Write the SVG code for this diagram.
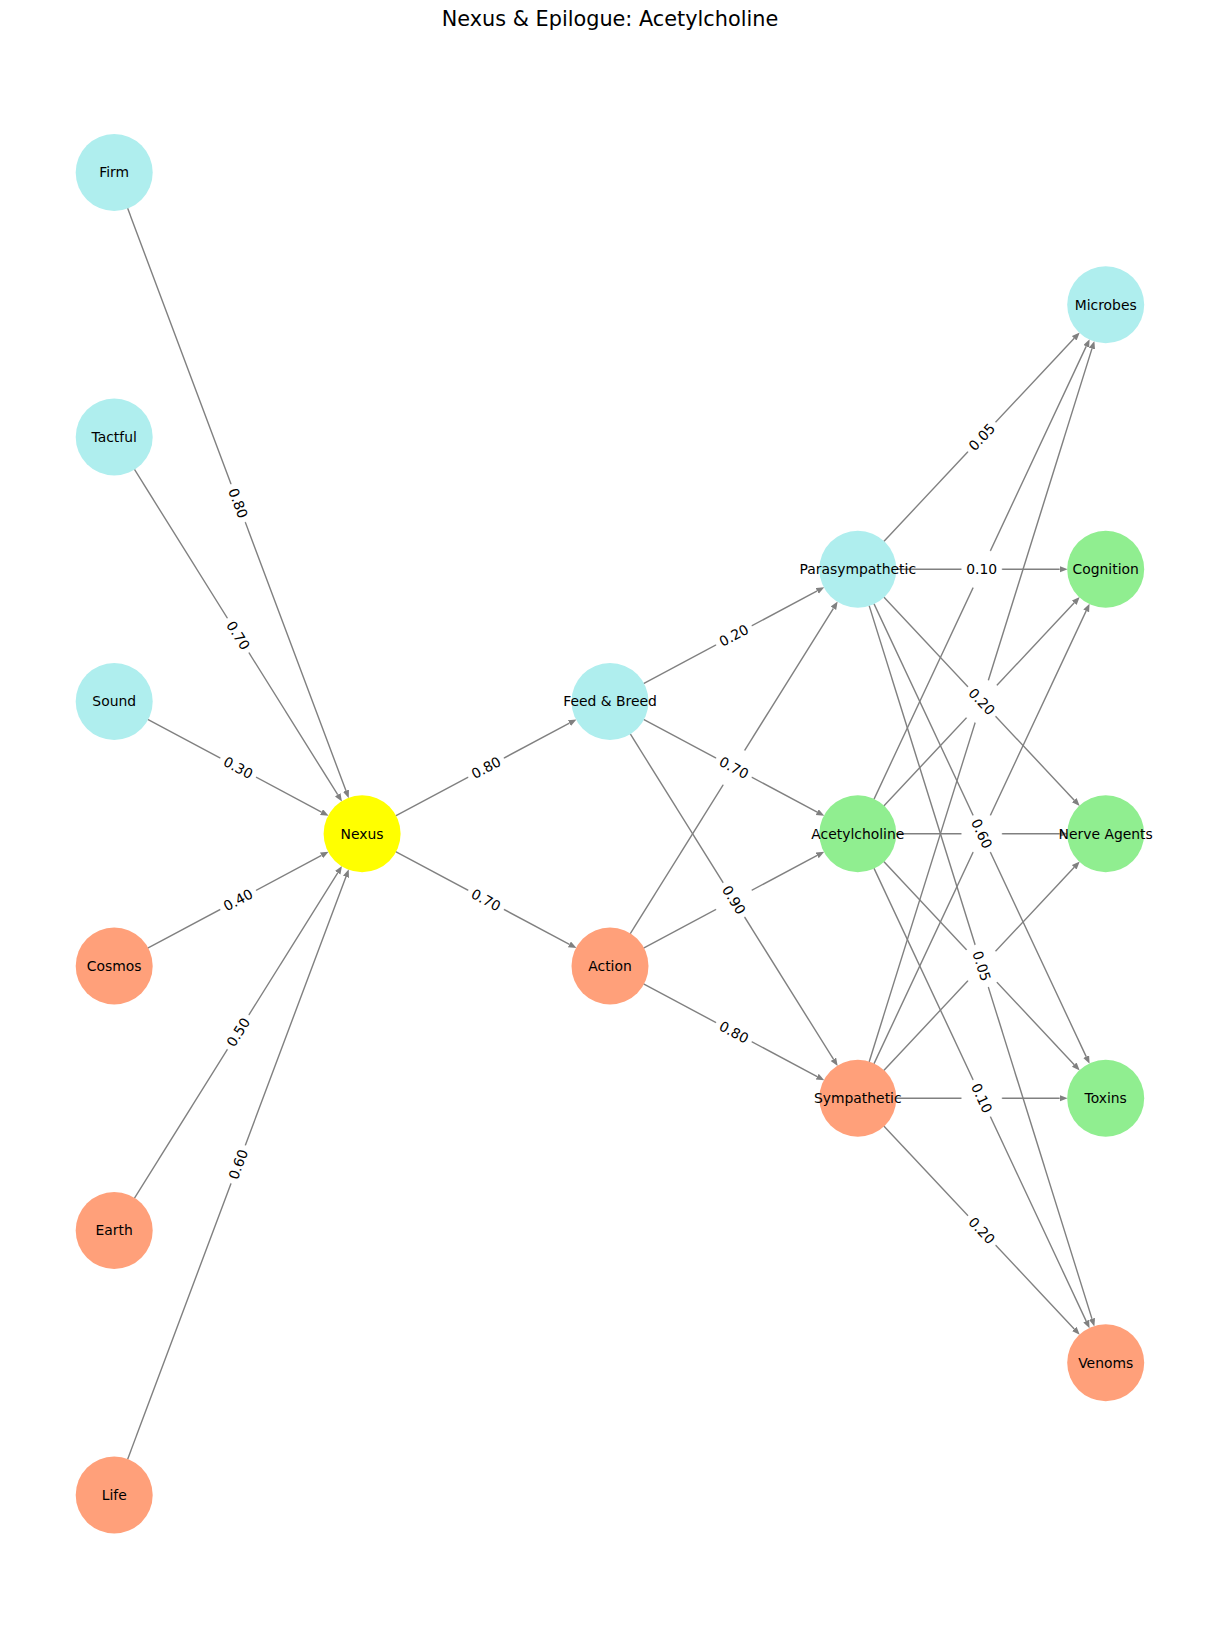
<svg xmlns="http://www.w3.org/2000/svg" width="1220" height="1644" viewBox="0 0 1220 1644">
<style>
text{font-family:"DejaVu Sans","Liberation Sans",sans-serif;fill:#000}
.t{font-size:20.8px;text-anchor:middle}
.n{font-size:13.9px;text-anchor:middle}
.el{font-size:13.9px;text-anchor:middle}
.e{stroke:#808080;stroke-width:1.4;fill:none;marker-end:url(#ah)}
.b{fill:#fff;stroke:#fff;stroke-width:0.5}
.cy{fill:#AFEEEE}.cs{fill:#FFA07A}.cg{fill:#90EE90}.cx{fill:#FFFF00}
</style>
<defs>
<marker id="ah" markerWidth="10" markerHeight="8" refX="0" refY="3.2" orient="auto" markerUnits="userSpaceOnUse"><path d="M0,0 L8,3.2 L0,6.4 z" fill="#808080"/></marker>
</defs>
<rect width="1220" height="1644" fill="#fff"/>
<text class="t" x="610" y="25.7">Nexus &amp; Epilogue: Acetylcholine</text>
<g id="connectors">
<line class="e" x1="127.54" y1="208.08" x2="345.95" y2="790.68"/>
<line class="e" x1="134.34" y1="469.23" x2="337.72" y2="794.74"/>
<line class="e" x1="147.73" y1="719.39" x2="321.51" y2="812.09"/>
<line class="e" x1="147.73" y1="948.11" x2="321.51" y2="855.41"/>
<line class="e" x1="134.34" y1="1198.27" x2="337.72" y2="872.76"/>
<line class="e" x1="127.54" y1="1459.42" x2="345.95" y2="876.82"/>
<line class="e" x1="395.63" y1="815.86" x2="569.41" y2="723.16"/>
<line class="e" x1="395.63" y1="851.64" x2="569.41" y2="944.34"/>
<line class="e" x1="643.53" y1="683.61" x2="817.21" y2="590.91"/>
<line class="e" x1="643.53" y1="719.39" x2="817.21" y2="812.09"/>
<line class="e" x1="630.14" y1="733.73" x2="833.42" y2="1059.24"/>
<line class="e" x1="630.14" y1="933.77" x2="833.42" y2="608.26"/>
<line class="e" x1="643.53" y1="948.11" x2="817.21" y2="855.41"/>
<line class="e" x1="643.53" y1="983.89" x2="817.21" y2="1076.59"/>
<line class="e" x1="883.79" y1="541.52" x2="1074.24" y2="338.32"/>
<line class="e" x1="895.8" y1="569.25" x2="1059.7" y2="569.25"/>
<line class="e" x1="883.79" y1="596.98" x2="1074.24" y2="800.18"/>
<line class="e" x1="873.92" y1="603.66" x2="1086.19" y2="1056.6"/>
<line class="e" x1="869.13" y1="605.52" x2="1091.98" y2="1318.84"/>
<line class="e" x1="873.92" y1="799.34" x2="1086.19" y2="346.4"/>
<line class="e" x1="883.79" y1="806.02" x2="1074.24" y2="602.82"/>
<line class="e" x1="895.8" y1="833.75" x2="1059.7" y2="833.75"/>
<line class="e" x1="883.79" y1="861.48" x2="1074.24" y2="1064.68"/>
<line class="e" x1="873.92" y1="868.16" x2="1086.19" y2="1321.1"/>
<line class="e" x1="869.13" y1="1061.98" x2="1091.98" y2="348.66"/>
<line class="e" x1="873.92" y1="1063.84" x2="1086.19" y2="610.9"/>
<line class="e" x1="883.79" y1="1070.52" x2="1074.24" y2="867.32"/>
<line class="e" x1="895.8" y1="1098.25" x2="1059.7" y2="1098.25"/>
<line class="e" x1="883.79" y1="1125.98" x2="1074.24" y2="1328.93"/>
</g>
<g id="edge-labels">
<g transform="translate(733.9,767.63) rotate(-58)"><rect class="b" x="-20" y="-12" width="40" height="24" rx="4"/></g>
<g transform="translate(733.9,899.88) rotate(-28.08)"><rect class="b" x="-20" y="-12" width="40" height="24" rx="4"/></g>
<g transform="translate(981.75,569.25) rotate(-64.89)"><rect class="b" x="-20" y="-12" width="40" height="24" rx="4"/></g>
<g transform="translate(981.75,701.5) rotate(-46.86)"><rect class="b" x="-20" y="-12" width="40" height="24" rx="4"/></g>
<g transform="translate(981.75,701.5) rotate(-72.65)"><rect class="b" x="-20" y="-12" width="40" height="24" rx="4"/></g>
<g transform="translate(981.75,833.75)"><rect class="b" x="-20" y="-12" width="40" height="24" rx="4"/></g>
<g transform="translate(981.75,833.75) rotate(-64.89)"><rect class="b" x="-20" y="-12" width="40" height="24" rx="4"/></g>
<g transform="translate(981.75,966) rotate(46.86)"><rect class="b" x="-20" y="-12" width="40" height="24" rx="4"/></g>
<g transform="translate(981.75,966) rotate(-46.86)"><rect class="b" x="-20" y="-12" width="40" height="24" rx="4"/></g>
<g transform="translate(981.75,1098.25)"><rect class="b" x="-20" y="-12" width="40" height="24" rx="4"/></g>
<g transform="translate(238.15,503.13) rotate(69.45)"><rect class="b" x="-20" y="-12" width="40" height="24" rx="4"/><text class="el" y="5">0.80</text></g>
<g transform="translate(238.15,635.38) rotate(58)"><rect class="b" x="-20" y="-12" width="40" height="24" rx="4"/><text class="el" y="5">0.70</text></g>
<g transform="translate(238.15,767.63) rotate(28.08)"><rect class="b" x="-20" y="-12" width="40" height="24" rx="4"/><text class="el" y="5">0.30</text></g>
<g transform="translate(238.15,899.88) rotate(-28.08)"><rect class="b" x="-20" y="-12" width="40" height="24" rx="4"/><text class="el" y="5">0.40</text></g>
<g transform="translate(238.15,1032.13) rotate(-58)"><rect class="b" x="-20" y="-12" width="40" height="24" rx="4"/><text class="el" y="5">0.50</text></g>
<g transform="translate(238.15,1164.38) rotate(-69.45)"><rect class="b" x="-20" y="-12" width="40" height="24" rx="4"/><text class="el" y="5">0.60</text></g>
<g transform="translate(486.05,767.63) rotate(-28.08)"><rect class="b" x="-20" y="-12" width="40" height="24" rx="4"/><text class="el" y="5">0.80</text></g>
<g transform="translate(486.05,899.88) rotate(28.08)"><rect class="b" x="-20" y="-12" width="40" height="24" rx="4"/><text class="el" y="5">0.70</text></g>
<g transform="translate(733.9,635.38) rotate(-28.08)"><rect class="b" x="-20" y="-12" width="40" height="24" rx="4"/><text class="el" y="5">0.20</text></g>
<g transform="translate(733.9,767.63) rotate(28.08)"><rect class="b" x="-20" y="-12" width="40" height="24" rx="4"/><text class="el" y="5">0.70</text></g>
<g transform="translate(733.9,899.88) rotate(58)"><rect class="b" x="-20" y="-12" width="40" height="24" rx="4"/><text class="el" y="5">0.90</text></g>
<g transform="translate(733.9,1032.13) rotate(28.08)"><rect class="b" x="-20" y="-12" width="40" height="24" rx="4"/><text class="el" y="5">0.80</text></g>
<g transform="translate(981.75,437) rotate(-46.86)"><rect class="b" x="-20" y="-12" width="40" height="24" rx="4"/><text class="el" y="5">0.05</text></g>
<g transform="translate(981.75,569.25)"><rect class="b" x="-20" y="-12" width="40" height="24" rx="4"/><text class="el" y="5">0.10</text></g>
<g transform="translate(981.75,701.5) rotate(46.86)"><rect class="b" x="-20" y="-12" width="40" height="24" rx="4"/><text class="el" y="5">0.20</text></g>
<g transform="translate(981.75,833.75) rotate(64.89)"><rect class="b" x="-20" y="-12" width="40" height="24" rx="4"/><text class="el" y="5">0.60</text></g>
<g transform="translate(981.75,966) rotate(72.65)"><rect class="b" x="-20" y="-12" width="40" height="24" rx="4"/><text class="el" y="5">0.05</text></g>
<g transform="translate(981.75,1098.25) rotate(64.89)"><rect class="b" x="-20" y="-12" width="40" height="24" rx="4"/><text class="el" y="5">0.10</text></g>
<g transform="translate(981.75,1230.5) rotate(46.86)"><rect class="b" x="-20" y="-12" width="40" height="24" rx="4"/><text class="el" y="5">0.20</text></g>
</g>
<g id="node-firm"><circle class="cy" cx="114.2" cy="172.5" r="38.5"/><text class="n" x="114.2" y="177.4">Firm</text></g>
<g id="node-tactful"><circle class="cy" cx="114.2" cy="437" r="38.5"/><text class="n" x="114.2" y="441.9">Tactful</text></g>
<g id="node-sound"><circle class="cy" cx="114.2" cy="701.5" r="38.5"/><text class="n" x="114.2" y="706.4">Sound</text></g>
<g id="node-cosmos"><circle class="cs" cx="114.2" cy="966" r="38.5"/><text class="n" x="114.2" y="970.9">Cosmos</text></g>
<g id="node-earth"><circle class="cs" cx="114.2" cy="1230.5" r="38.5"/><text class="n" x="114.2" y="1235.4">Earth</text></g>
<g id="node-life"><circle class="cs" cx="114.2" cy="1495" r="38.5"/><text class="n" x="114.2" y="1499.9">Life</text></g>
<g id="node-nexus"><circle class="cx" cx="362.1" cy="833.75" r="38.5"/><text class="n" x="362.1" y="838.65">Nexus</text></g>
<g id="node-feed-breed"><circle class="cy" cx="610" cy="701.5" r="38.5"/><text class="n" x="610" y="706.4">Feed &amp; Breed</text></g>
<g id="node-action"><circle class="cs" cx="610" cy="966" r="38.5"/><text class="n" x="610" y="970.9">Action</text></g>
<g id="node-parasympathetic"><circle class="cy" cx="857.8" cy="569.25" r="38.5"/><text class="n" x="857.8" y="574.15">Parasympathetic</text></g>
<g id="node-acetylcholine"><circle class="cg" cx="857.8" cy="833.75" r="38.5"/><text class="n" x="857.8" y="838.65">Acetylcholine</text></g>
<g id="node-sympathetic"><circle class="cs" cx="857.8" cy="1098.25" r="38.5"/><text class="n" x="857.8" y="1103.15">Sympathetic</text></g>
<g id="node-microbes"><circle class="cy" cx="1105.7" cy="304.75" r="38.5"/><text class="n" x="1105.7" y="309.65">Microbes</text></g>
<g id="node-cognition"><circle class="cg" cx="1105.7" cy="569.25" r="38.5"/><text class="n" x="1105.7" y="574.15">Cognition</text></g>
<g id="node-nerve-agents"><circle class="cg" cx="1105.7" cy="833.75" r="38.5"/><text class="n" x="1105.7" y="838.65">Nerve Agents</text></g>
<g id="node-toxins"><circle class="cg" cx="1105.7" cy="1098.25" r="38.5"/><text class="n" x="1105.7" y="1103.15">Toxins</text></g>
<g id="node-venoms"><circle class="cs" cx="1105.7" cy="1362.75" r="38.5"/><text class="n" x="1105.7" y="1367.65">Venoms</text></g>
</svg>
